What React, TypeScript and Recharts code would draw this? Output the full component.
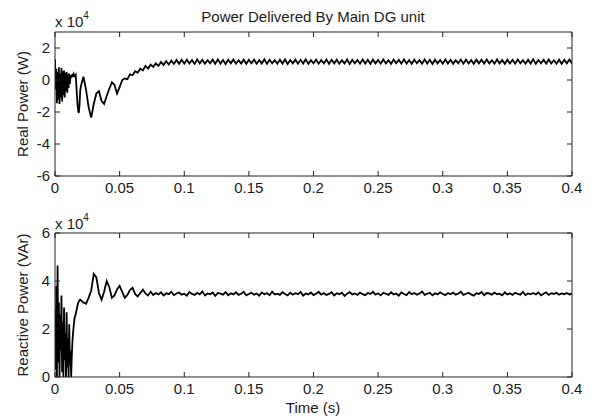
import { LineChart, Line, XAxis, YAxis } from 'recharts';

// sample grid: fine steps for the start-up transient, coarser afterwards
const FINE_DT = 0.0005;
const COARSE_START = 0.02;
const COARSE_DT = 0.002;

const timeTicks = [0, 0.05, 0.1, 0.15, 0.2, 0.25, 0.3, 0.35, 0.4];
const realTicks = [-6, -4, -2, 0, 2];
const reactiveTicks = [0, 2, 4, 6];

// Real power (x 10^4 W), t = 0 .. 0.0195
const realFine = [
  1.3, -0.6, 0.7, -1.45, 0.5, -1.25, 0.8, -1.5, 0.4, -1.1,
  0.75, -1.35, 0.55, -0.95, 0.6, -1.1, 0.45, -0.7, 0.5, -0.8,
  0.35, -0.5, 0.4, -0.25, 0.3, 0.2, 0.28, 0.32, 0.18, 0.36,
  0.24, 0.22, 0.3, -0.3, -1.0, -1.6, -1.95, -2.05, -1.5, -0.7,
];
// t = 0.020 .. 0.100
const realRamp = [
  -0.4, 0.2, -0.6, -1.7, -2.35, -1.5, -0.85, -0.7, -1.3, -1.5,
  -1.0, -0.55, -0.15, -0.3, -0.85, -0.45, 0.0, 0.1, 0.05, 0.35,
  0.3, 0.55, 0.45, 0.72, 0.6, 0.88, 0.72, 0.96, 0.82, 1.04,
  0.88, 1.12, 0.94, 1.18, 0.97, 1.22, 1.0, 1.25, 1.01, 1.26,
  1.02,
];
// t = 0.102 .. 0.400
const realSteady = [
  1.27, 1.03, 1.25, 1.01, 1.28, 1.04, 1.26, 1.02, 1.24, 1.05,
  1.27, 1.02, 1.29, 1.03, 1.25, 1.0, 1.26, 1.04, 1.28, 1.02,
  1.24, 1.03, 1.27, 1.01, 1.26, 1.05, 1.28, 1.02, 1.25, 1.03,
  1.29, 1.01, 1.26, 1.04, 1.24, 1.02, 1.27, 1.03, 1.28, 1.0,
  1.25, 1.04, 1.27, 1.02, 1.26, 1.03, 1.29, 1.01, 1.24, 1.05,
  1.27, 1.02, 1.25, 1.03, 1.28, 1.01, 1.26, 1.04, 1.27, 1.02,
  1.24, 1.03, 1.28, 1.0, 1.26, 1.05, 1.25, 1.02, 1.29, 1.03,
  1.26, 1.01, 1.27, 1.04, 1.25, 1.02, 1.28, 1.03, 1.24, 1.01,
  1.27, 1.05, 1.26, 1.02, 1.29, 1.03, 1.25, 1.01, 1.27, 1.04,
  1.24, 1.02, 1.28, 1.03, 1.26, 1.0, 1.27, 1.04, 1.25, 1.02,
  1.29, 1.03, 1.26, 1.01, 1.24, 1.05, 1.28, 1.02, 1.27, 1.03,
  1.25, 1.01, 1.27, 1.04, 1.26, 1.02, 1.29, 1.03, 1.24, 1.02,
  1.28, 1.04, 1.25, 1.01, 1.27, 1.03, 1.26, 1.02, 1.28, 1.05,
  1.24, 1.02, 1.27, 1.03, 1.29, 1.01, 1.25, 1.04, 1.26, 1.02,
  1.28, 1.03, 1.24, 1.02, 1.27, 1.01, 1.26, 1.04, 1.28, 1.03,
];

// Reactive power (x 10^4 VAr), t = 0 .. 0.0195
const reactiveFine = [
  2.8, 0.3, 3.8, 0.0, 4.65, 0.6, 3.1, 0.0, 2.6, 1.1,
  3.4, 0.2, 2.3, 0.0, 2.9, 0.7, 1.8, 0.0, 2.7, 0.4,
  1.6, 0.0, 2.2, 0.5, 1.1, 0.0, 0.9, 1.5, 1.85, 2.15,
  2.4, 2.55, 2.6, 2.75, 2.85, 3.0, 3.1, 3.15, 3.2, 3.22,
];
// t = 0.020 .. 0.074
const reactiveRamp = [
  3.2, 3.1, 3.05, 3.3, 3.6, 4.3, 4.15, 3.5, 3.22, 3.55,
  4.0, 3.75, 3.3, 3.4, 3.65, 3.8, 3.55, 3.3, 3.42, 3.62,
  3.72, 3.45, 3.36, 3.5, 3.64, 3.48, 3.4, 3.55,
];
// t = 0.076 .. 0.400
const reactiveSteady = [
  3.42, 3.5, 3.44, 3.53, 3.4, 3.49, 3.45, 3.55, 3.41, 3.48,
  3.52, 3.43, 3.47, 3.39, 3.54, 3.46, 3.42, 3.51, 3.44, 3.56,
  3.4, 3.48, 3.45, 3.52, 3.38, 3.5, 3.47, 3.43, 3.54, 3.41,
  3.49, 3.44, 3.53, 3.42, 3.47, 3.55, 3.4, 3.46, 3.51, 3.43,
  3.48, 3.39, 3.52, 3.45, 3.5, 3.41, 3.56, 3.44, 3.47, 3.42,
  3.53, 3.46, 3.4, 3.51, 3.43, 3.49, 3.45, 3.54, 3.39, 3.48,
  3.44, 3.52, 3.41, 3.47, 3.55, 3.43, 3.5, 3.42, 3.46, 3.53,
  3.4, 3.49, 3.45, 3.51, 3.38, 3.47, 3.54, 3.44, 3.48, 3.42,
  3.52, 3.45, 3.41, 3.5, 3.46, 3.55, 3.43, 3.49, 3.4, 3.51,
  3.47, 3.42, 3.53, 3.44, 3.48, 3.39, 3.52, 3.46, 3.41, 3.54,
  3.45, 3.5, 3.43, 3.48, 3.56, 3.42, 3.47, 3.51, 3.4, 3.49,
  3.44, 3.53, 3.46, 3.41, 3.5, 3.45, 3.52, 3.43, 3.48, 3.55,
  3.42, 3.47, 3.51, 3.44, 3.39, 3.49, 3.46, 3.54, 3.41, 3.5,
  3.48, 3.43, 3.52, 3.45, 3.47, 3.4, 3.53, 3.44, 3.49, 3.42,
  3.51, 3.46, 3.43, 3.55, 3.41, 3.48, 3.45, 3.5, 3.44, 3.52,
  3.4, 3.47, 3.53, 3.42, 3.49, 3.46, 3.51, 3.43, 3.48, 3.45,
  3.5, 3.44, 3.47,
];

const FONT = '"Liberation Sans", Arial, Helvetica, sans-serif';
const INK = '#1c1c1c';
const AXIS = '#222';

function buildSeries(fine: number[], coarse: number[]) {
  const rows = fine.map((v, i) => ({ t: i * FINE_DT, v }));
  coarse.forEach((v, i) => rows.push({ t: COARSE_START + i * COARSE_DT, v }));
  return rows;
}

const realData = buildSeries(realFine, [...realRamp, ...realSteady]);
const reactiveData = buildSeries(reactiveFine, [...reactiveRamp, ...reactiveSteady]);

// MATLAB style: ticks point into the box
const BottomTick = ({ x, y, payload }: any) => (
  <g>
    <line x1={x} y1={y} x2={x} y2={y - 5} stroke={AXIS} />
    <text x={x} y={y + 17} textAnchor="middle" fill={INK} fontSize={15} fontFamily={FONT}>
      {payload.value}
    </text>
  </g>
);

const TopTick = ({ x, y }: any) => <line x1={x} y1={y} x2={x} y2={y + 5} stroke={AXIS} />;

const LeftTick = ({ x, y, payload }: any) => (
  <g>
    <line x1={x} y1={y} x2={x + 5} y2={y} stroke={AXIS} />
    <text x={x - 5} y={y + 5} textAnchor="end" fill={INK} fontSize={15} fontFamily={FONT}>
      {payload.value}
    </text>
  </g>
);

const RightTick = ({ x, y }: any) => <line x1={x} y1={y} x2={x - 5} y2={y} stroke={AXIS} />;

interface PanelProps {
  data: { t: number; v: number }[];
  domain: [number, number];
  ticks: number[];
  height: number;
  margin: { top: number; right: number; bottom: number; left: number };
}

function Panel({ data, domain, ticks, height, margin }: PanelProps) {
  return (
    <LineChart width={596} height={height} data={data} margin={margin}>
      <XAxis
        dataKey="t"
        type="number"
        domain={[0, 0.4]}
        ticks={timeTicks}
        height={1}
        tickSize={0}
        tickMargin={0}
        tick={<BottomTick />}
        axisLine={{ stroke: AXIS }}
        tickLine={false}
        interval={0}
        allowDataOverflow
      />
      <XAxis
        xAxisId="top"
        orientation="top"
        dataKey="t"
        type="number"
        domain={[0, 0.4]}
        ticks={timeTicks}
        height={1}
        tickSize={0}
        tickMargin={0}
        tick={<TopTick />}
        axisLine={{ stroke: AXIS }}
        tickLine={false}
        interval={0}
        allowDataOverflow
      />
      <YAxis
        type="number"
        domain={domain}
        ticks={ticks}
        width={1}
        tickSize={0}
        tickMargin={0}
        tick={<LeftTick />}
        axisLine={{ stroke: AXIS }}
        tickLine={false}
        interval={0}
        allowDataOverflow
      />
      <YAxis
        yAxisId="right"
        orientation="right"
        type="number"
        domain={domain}
        ticks={ticks}
        width={1}
        tickSize={0}
        tickMargin={0}
        tick={<RightTick />}
        axisLine={{ stroke: AXIS }}
        tickLine={false}
        interval={0}
        allowDataOverflow
      />
      <Line
        type="linear"
        dataKey="v"
        stroke="#000"
        strokeWidth={1.8}
        dot={false}
        isAnimationActive={false}
      />
    </LineChart>
  );
}

export default function App() {
  return (
    <div
      style={{
        position: 'absolute',
        left: 0,
        top: 0,
        width: 596,
        height: 420,
        background: '#fff',
        fontFamily: FONT,
      }}
    >
      <div style={{ position: 'absolute', left: 0, top: 0 }}>
        <Panel
          data={realData}
          domain={[-6, 3]}
          ticks={realTicks}
          height={200}
          margin={{ top: 31, right: 23, bottom: 23, left: 54 }}
        />
      </div>
      <div style={{ position: 'absolute', left: 0, top: 200 }}>
        <Panel
          data={reactiveData}
          domain={[0, 6]}
          ticks={reactiveTicks}
          height={220}
          margin={{ top: 32, right: 23, bottom: 42, left: 54 }}
        />
      </div>
      <svg
        width={596}
        height={420}
        style={{ position: 'absolute', left: 0, top: 0, pointerEvents: 'none' }}
        fontFamily={FONT}
        fill={INK}
      >
        <text x={313} y={22} textAnchor="middle" fontSize={15}>
          Power Delivered By Main DG unit
        </text>
        <text x={55} y={27} fontSize={15}>
          x 10<tspan dy={-8} fontSize={10}>4</tspan>
        </text>
        <text x={55} y={229} fontSize={15}>
          x 10<tspan dy={-8} fontSize={10}>4</tspan>
        </text>
        <text x={28} y={104} textAnchor="middle" fontSize={15} transform="rotate(-90 28 104)">
          Real Power (W)
        </text>
        <text x={28} y={305} textAnchor="middle" fontSize={15} transform="rotate(-90 28 305)">
          Reactive Power (VAr)
        </text>
        <text x={313} y={413} textAnchor="middle" fontSize={15}>
          Time (s)
        </text>
      </svg>
    </div>
  );
}
